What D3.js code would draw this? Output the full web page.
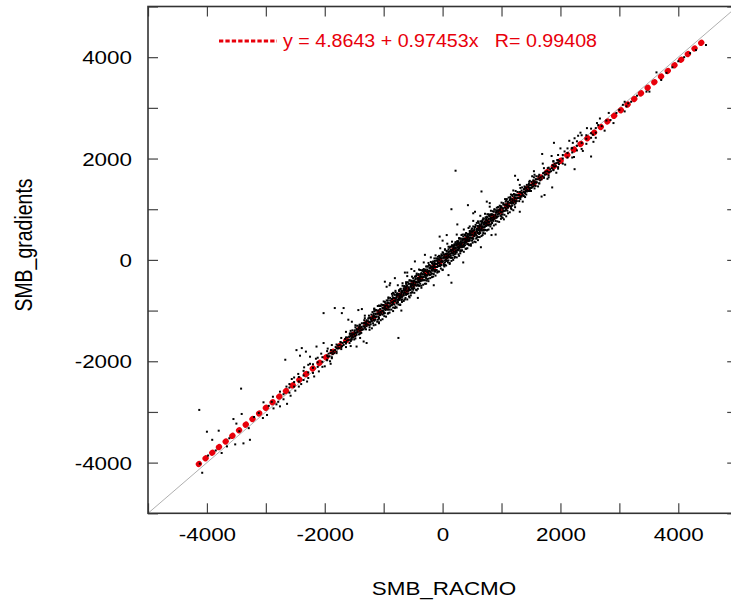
<!DOCTYPE html>
<html>
<head>
<meta charset="utf-8">
<script src="https://cdn.jsdelivr.net/npm/d3@7"></script>
<style>
  body { margin: 0; background: #fff; }
  text { font-family: "Liberation Sans", Arial, Helvetica, sans-serif; }
</style>
</head>
<body>
<div id="chart"></div>
<script>
// axis settings
const axisDomain = [-5000, 5000];
const tickValues = [-5000, -4000, -3000, -2000, -1000, 0, 1000, 2000, 3000, 4000, 5000];
const xTitle = "SMB_RACMO";
const yTitle = "SMB_gradients";

// linear fit (from the legend)
const fitIntercept = 4.8643;
const fitSlope = 0.97453;
const fitR = 0.99408;
const fitRange = [-4140, 4470];

// scatter points [SMB_RACMO, SMB_gradients]
const lowerTail = [
  [-4130,-2960],[-4080,-4200],[-4000,-3390],[-3800,-3370],[-3910,-3550],[-3550,-3140],
  [-3410,-3040],[-3500,-3230],[-3380,-3620],[-3270,-3550],[-3520,-3640],[-3750,-3810],
  [-3660,-3680],[-3290,-3320],[-3040,-2810],[-2980,-3060],[-3050,-3120],[-2870,-2930],
  [-2760,-2890],[-2640,-2840],[-2790,-2800],[-4120,-4020],[-3980,-3860],[-3850,-3760],
  [-3620,-3520],[-3450,-3380],[-3200,-3100],[-3120,-3020],[-2950,-2880],[-2900,-2800],
  [-2700,-2650],[-3420,-2540]
];

const negBand = [
  [-2600,-2620],[-2600,-2520],[-2600,-2450],[-2520,-2500],[-2520,-2410],[-2520,-2320],
  [-2440,-2500],[-2440,-2400],[-2440,-2310],[-2360,-2370],[-2360,-2280],[-2360,-2190],
  [-2280,-2330],[-2280,-2220],[-2280,-2070],[-2200,-2230],[-2200,-2130],[-2200,-2060],
  [-2120,-2110],[-2120,-2020],[-2120,-1930],[-2040,-2110],[-2040,-2010],[-2040,-1920],
  [-1960,-1980],[-1960,-1890],[-1960,-1800],[-1880,-1940],[-1880,-1830],[-1880,-1680],
  [-1800,-1840],[-1800,-1740],[-1800,-1670],[-1720,-1720],[-1720,-1630],[-1720,-1540],
  [-1640,-1720],[-1640,-1620],[-1640,-1530],[-1560,-1590],[-1560,-1500],[-1560,-1400],
  [-1480,-1550],[-1480,-1440],[-1480,-1290],[-1400,-1450],[-1400,-1350],[-1400,-1280],
  [-1320,-1330],[-1320,-1240],[-1320,-1150],[-1240,-1330],[-1240,-1230],[-1240,-1140],
  [-1160,-1200],[-1160,-1110],[-1160,-1010],[-1080,-1160],[-1080,-1050],[-1080,-900],
  [-1000,-1060],[-1000,-960],[-1000,-890],[-920,-940],[-920,-850],[-920,-760],
  [-840,-940],[-840,-840],[-840,-750],
  [-1640,-1420],[-1560,-1700],[-1480,-1330],[-1400,-1540],[-1320,-1100],[-1240,-1380],
  [-1160,-960],[-1080,-1230],[-1000,-820],[-920,-1050],[-840,-650],
  [-2880,-2700],[-2820,-2850],[-2760,-2600],[-2700,-2750],[-2650,-2500],[-2580,-2680],
  [-2560,-2350],[-2500,-2580],[-2450,-2250],[-2400,-2450],[-2350,-2120],[-2300,-2400],
  [-2250,-2050],[-2180,-2300],[-2150,-1950],[-2100,-2200],[-2060,-1850],[-2000,-2100],
  [-1950,-1750],[-1900,-2050]
];

const coreBand = [
  [-800,-920],[-780,-840],[-800,-770],[-780,-700],[-800,-610],
  [-760,-840],[-740,-760],[-760,-690],[-740,-610],[-760,-500],
  [-720,-880],[-700,-780],[-720,-710],[-700,-640],[-720,-580],
  [-680,-780],[-660,-690],[-680,-630],[-660,-560],[-680,-460],
  [-640,-780],[-620,-670],[-640,-600],[-620,-470],[-640,-530],
  [-600,-670],[-580,-580],[-600,-510],[-580,-470],[-600,-320],
  [-560,-740],[-540,-650],[-560,-580],[-540,-500],[-560,-400],
  [-520,-640],[-500,-560],[-520,-490],[-500,-420],[-520,-330],
  [-480,-560],[-460,-480],[-480,-410],[-460,-330],[-480,-220],
  [-440,-600],[-420,-500],[-440,-430],[-420,-360],[-440,-300],
  [-400,-510],[-380,-420],[-400,-360],[-380,-290],[-400,-190],
  [-360,-510],[-340,-400],[-360,-330],[-340,-200],[-360,-260],
  [-320,-400],[-300,-310],[-320,-240],[-300,-200],[-320,-50],
  [-280,-470],[-260,-380],[-280,-310],[-260,-230],[-280,-130],
  [-240,-370],[-220,-290],[-240,-220],[-220,-150],[-240,-60],
  [-200,-290],[-180,-210],[-200,-140],[-180,-60],[-200,50],
  [-160,-330],[-140,-230],[-160,-160],[-140,-90],[-160,-30],
  [-120,-230],[-100,-140],[-120,-80],[-100,-10],[-120,90],
  [-80,-230],[-60,-120],[-80,-50],[-60,80],[-80,20],
  [-40,-120],[-20,-30],[-40,40],[-20,80],[-40,230],
  [0,-200],[20,-110],[0,-40],[20,50],[0,150],
  [40,-100],[60,-20],[40,50],[60,120],[40,210],
  [80,-20],[100,60],[80,130],[100,210],[80,320],
  [120,-60],[140,40],[120,110],[140,180],[120,240],
  [160,40],[180,130],[160,190],[180,260],[160,360],
  [200,40],[220,150],[200,220],[220,350],[200,290],
  [240,150],[260,240],[240,310],[260,350],[240,500],
  [280,80],[300,170],[280,240],[300,320],[280,420],
  [320,180],[340,260],[320,330],[340,400],[320,490],
  [360,260],[380,340],[360,410],[380,490],[360,600],
  [400,220],[420,320],[400,390],[420,460],[400,520],
  [440,310],[460,400],[440,460],[460,530],[440,630],
  [480,310],[500,420],[480,490],[500,620],[480,560],
  [520,420],[540,510],[520,580],[540,620],[520,770],
  [560,350],[580,440],[560,510],[580,590],[560,690],
  [600,450],[620,530],[600,600],[620,670],[600,760],
  [640,530],[660,610],[640,680],[660,760],[640,870],
  [680,490],[700,590],[680,660],[700,730],[680,790],
  [720,590],[740,680],[720,740],[740,810],[720,910],
  [760,590],[780,700],[760,770],[780,900],[760,840],
  [800,700],[820,790],[800,860],[820,900],[800,1050],
  [230,280],[260,300],[290,330],[250,360],[310,300],[340,390],[370,350],[280,250],
  [420,450],[450,400],[330,250],[210,230],[390,480],[470,520],[300,420],[360,300],
  [440,380],[500,560],[260,200],[200,310]
];

// points hugging the fit through the densest part
const coreLine = [
  [-1580,-1640],[-1570,-1570],[-1580,-1510],[-1570,-1450],
  [-1540,-1570],[-1530,-1510],[-1540,-1450],[-1530,-1390],
  [-1500,-1570],[-1490,-1510],[-1500,-1450],[-1490,-1390],
  [-1460,-1480],[-1450,-1420],[-1460,-1360],[-1450,-1300],
  [-1420,-1470],[-1410,-1400],[-1420,-1340],[-1410,-1280],
  [-1380,-1440],[-1370,-1380],[-1380,-1320],[-1370,-1250],
  [-1340,-1370],[-1330,-1310],[-1340,-1250],[-1330,-1190],
  [-1300,-1370],[-1290,-1310],[-1300,-1250],[-1290,-1190],
  [-1260,-1280],[-1250,-1220],[-1260,-1160],[-1250,-1100],
  [-1220,-1270],[-1210,-1200],[-1220,-1140],[-1210,-1080],
  [-1180,-1250],[-1170,-1180],[-1180,-1120],[-1170,-1060],
  [-1140,-1180],[-1130,-1120],[-1140,-1060],[-1130,-1000],
  [-1100,-1180],[-1090,-1120],[-1100,-1060],[-1090,-1000],
  [-1060,-1090],[-1050,-1030],[-1060,-970],[-1050,-910],
  [-1020,-1080],[-1010,-1010],[-1020,-950],[-1010,-890],
  [-980,-1050],[-970,-990],[-980,-930],[-970,-860],
  [-940,-980],[-930,-920],[-940,-860],[-930,-800],
  [-900,-980],[-890,-920],[-900,-860],[-890,-800],
  [-860,-890],[-850,-830],[-860,-770],[-850,-710],
  [-820,-880],[-810,-810],[-820,-750],[-810,-690],
  [-780,-860],[-770,-790],[-780,-730],[-770,-670],
  [-740,-790],[-730,-730],[-740,-670],[-730,-610],
  [-700,-790],[-690,-730],[-700,-670],[-690,-610],
  [-660,-700],[-650,-640],[-660,-580],[-650,-520],
  [-620,-690],[-610,-620],[-620,-560],[-610,-500],
  [-580,-660],[-570,-600],[-580,-540],[-570,-470],
  [-540,-590],[-530,-530],[-540,-470],[-530,-410],
  [-500,-590],[-490,-530],[-500,-470],[-490,-410],
  [-460,-500],[-450,-440],[-460,-380],[-450,-320],
  [-420,-490],[-410,-420],[-420,-360],[-410,-300],
  [-380,-470],[-370,-400],[-380,-340],[-370,-280],
  [-340,-400],[-330,-340],[-340,-280],[-330,-220],
  [-300,-400],[-290,-340],[-300,-280],[-290,-220],
  [-260,-310],[-250,-250],[-260,-190],[-250,-130],
  [-220,-300],[-210,-230],[-220,-170],[-210,-110],
  [-180,-270],[-170,-210],[-180,-150],[-170,-80],
  [-140,-200],[-130,-140],[-140,-80],[-130,-20],
  [-100,-200],[-90,-140],[-100,-80],[-90,-20],
  [-60,-110],[-50,-50],[-60,10],[-50,70],
  [-20,-100],[-10,-30],[-20,30],[-10,90],
  [20,-80],[30,-10],[20,50],[30,110],
  [60,-10],[70,50],[60,110],[70,170],
  [100,-10],[110,50],[100,110],[110,170],
  [140,80],[150,140],[140,200],[150,260],
  [180,90],[190,160],[180,220],[190,280],
  [220,120],[230,180],[220,240],[230,310],
  [260,190],[270,250],[260,310],[270,370],
  [300,190],[310,250],[300,310],[310,370],
  [340,280],[350,340],[340,400],[350,460],
  [380,290],[390,360],[380,420],[390,480],
  [420,310],[430,380],[420,440],[430,500],
  [460,380],[470,440],[460,500],[470,560],
  [500,380],[510,440],[500,500],[510,560],
  [540,470],[550,530],[540,590],[550,650],
  [580,480],[590,550],[580,610],[590,670],
  [620,510],[630,570],[620,630],[630,700],
  [660,580],[670,640],[660,700],[670,760],
  [700,580],[710,640],[700,700],[710,760],
  [740,670],[750,730],[740,790],[750,850],
  [780,680],[790,750],[780,810],[790,870],
  [820,700],[830,770],[820,830],[830,890],
  [860,770],[870,830],[860,890],[870,950],
  [900,770],[910,830],[900,890],[910,950],
  [940,860],[950,920],[940,980],[950,1040],
  [980,870],[990,940],[980,1000],[990,1060],
  [1020,900],[1030,960],[1020,1020],[1030,1090],
  [1060,970],[1070,1030],[1060,1090],[1070,1150],
  [1100,970],[1110,1030],[1100,1090],[1110,1150],
  [1140,1060],[1150,1120],[1140,1180],[1150,1240],
  [1180,1070],[1190,1140],[1180,1200],[1190,1260],
  [1220,1090],[1230,1160],[1220,1220],[1230,1280],
  [1260,1160],[1270,1220],[1260,1280],[1270,1340],
  [1300,1160],[1310,1220],[1300,1280],[1310,1340],
  [1340,1250],[1350,1310],[1340,1370],[1350,1430],
  [1380,1260],[1390,1330],[1380,1390],[1390,1450],
  [1420,1290],[1430,1350],[1420,1410],[1430,1480],
  [1460,1360],[1470,1420],[1460,1480],[1470,1540],
  [1500,1360],[1510,1420],[1500,1480],[1510,1540],
  [1540,1450],[1550,1510],[1540,1570],[1550,1630],
  [1580,1460],[1590,1530],[1580,1590],[1590,1650]
];

// second tight layer, -2000 .. 2000
const coreTight = [
  [-1960,-1970],[-1945,-1910],[-1935,-1850],[-1920,-1900],[-1905,-1840],[-1895,-1780],
  [-1880,-1920],[-1865,-1860],[-1855,-1800],[-1840,-1840],[-1825,-1780],[-1815,-1720],
  [-1800,-1810],[-1785,-1750],[-1775,-1690],[-1760,-1740],[-1745,-1680],[-1735,-1620],
  [-1720,-1760],[-1705,-1700],[-1695,-1640],[-1680,-1680],[-1665,-1620],[-1655,-1560],
  [-1640,-1650],[-1625,-1590],[-1615,-1530],[-1600,-1580],[-1585,-1520],[-1575,-1460],
  [-1560,-1600],[-1545,-1540],[-1535,-1480],[-1520,-1530],[-1505,-1470],[-1495,-1410],
  [-1480,-1500],[-1465,-1440],[-1455,-1380],[-1440,-1430],[-1425,-1370],[-1415,-1310],
  [-1400,-1450],[-1385,-1390],[-1375,-1330],[-1360,-1370],[-1345,-1310],[-1335,-1250],
  [-1320,-1340],[-1305,-1280],[-1295,-1220],[-1280,-1270],[-1265,-1210],[-1255,-1150],
  [-1240,-1290],[-1225,-1230],[-1215,-1170],[-1200,-1210],[-1185,-1150],[-1175,-1090],
  [-1160,-1190],[-1145,-1130],[-1135,-1070],[-1120,-1120],[-1105,-1060],[-1095,-1000],
  [-1080,-1140],[-1065,-1080],[-1055,-1020],[-1040,-1060],[-1025,-1000],[-1015,-940],
  [-1000,-1030],[-985,-970],[-975,-910],[-960,-960],[-945,-900],[-935,-840],
  [-920,-980],[-905,-920],[-895,-860],[-880,-900],[-865,-840],[-855,-780],
  [-840,-870],[-825,-810],[-815,-750],[-800,-810],[-785,-750],[-775,-690],
  [-760,-830],[-745,-770],[-735,-710],[-720,-750],[-705,-690],[-695,-630],
  [-680,-720],[-665,-660],[-655,-600],[-640,-650],[-625,-590],[-615,-530],
  [-600,-670],[-585,-610],[-575,-550],[-560,-590],[-545,-530],[-535,-470],
  [-520,-560],[-505,-500],[-495,-440],[-480,-490],[-465,-430],[-455,-370],
  [-440,-510],[-425,-450],[-415,-390],[-400,-440],[-385,-380],[-375,-320],
  [-360,-410],[-345,-350],[-335,-290],[-320,-340],[-305,-280],[-295,-220],
  [-280,-360],[-265,-300],[-255,-240],[-240,-280],[-225,-220],[-215,-160],
  [-200,-250],[-185,-190],[-175,-130],[-160,-180],[-145,-120],[-135,-60],
  [-120,-200],[-105,-140],[-95,-80],[-80,-120],[-65,-60],[-55,0],
  [-40,-90],[-25,-30],[-15,30],[0,-30],[15,40],[25,100],
  [40,-50],[55,10],[65,70],[80,30],[95,90],[105,150],
  [120,60],[135,120],[145,180],[160,130],[175,190],[185,250],
  [200,110],[215,170],[225,230],[240,190],[255,250],[265,310],
  [280,220],[295,280],[305,340],[320,290],[335,350],[345,410],
  [360,270],[375,330],[385,390],[400,350],[415,410],[425,470],
  [440,370],[455,430],[465,490],[480,440],[495,500],[505,560],
  [520,420],[535,480],[545,540],[560,500],[575,560],[585,620],
  [600,530],[615,590],[625,650],[640,600],[655,660],[665,720],
  [680,580],[695,640],[705,700],[720,660],[735,720],[745,780],
  [760,690],[775,750],[785,810],[800,760],[815,820],[825,880],
  [840,730],[855,790],[865,850],[880,810],[895,870],[905,930],
  [920,840],[935,900],[945,960],[960,910],[975,970],[985,1030],
  [1000,890],[1015,950],[1025,1010],[1040,970],[1055,1030],[1065,1090],
  [1080,1000],[1095,1060],[1105,1120],[1120,1070],[1135,1130],[1145,1190],
  [1160,1050],[1175,1110],[1185,1170],[1200,1120],[1215,1180],[1225,1240],
  [1240,1150],[1255,1210],[1265,1270],[1280,1220],[1295,1280],[1305,1340],
  [1320,1200],[1335,1260],[1345,1320],[1360,1280],[1375,1340],[1385,1400],
  [1400,1310],[1415,1370],[1425,1430],[1440,1380],[1455,1440],[1465,1500],
  [1480,1360],[1495,1420],[1505,1480],[1520,1440],[1535,1500],[1545,1560],
  [1560,1470],[1575,1530],[1585,1590],[1600,1530],[1615,1590],[1625,1650],
  [1640,1510],[1655,1570],[1665,1630],[1680,1590],[1695,1650],[1705,1710],
  [1720,1620],[1735,1680],[1745,1740],[1760,1690],[1775,1750],[1785,1810],
  [1800,1670],[1815,1730],[1825,1790],[1840,1750],[1855,1810],[1865,1870],
  [1880,1780],[1895,1840],[1905,1900],[1920,1850],[1935,1910],[1945,1970],
  [1960,1830],[1975,1890],[1985,1950]
];

// looser fringe around the centre
const coreWide = [
  [-1200,-1350],[-1170,-1290],[-1190,-1030],[-1160,-970],
  [-1140,-1280],[-1110,-1220],[-1130,-990],[-1100,-910],
  [-1080,-1250],[-1050,-1190],[-1070,-910],[-1040,-880],
  [-1020,-1170],[-990,-1110],[-1010,-890],[-980,-830],
  [-960,-1120],[-930,-1060],[-950,-800],[-920,-740],
  [-900,-1040],[-870,-980],[-890,-750],[-860,-670],
  [-840,-1010],[-810,-950],[-830,-670],[-800,-640],
  [-780,-940],[-750,-880],[-770,-660],[-740,-600],
  [-720,-890],[-690,-830],[-710,-570],[-680,-510],
  [-660,-810],[-630,-750],[-650,-520],[-620,-440],
  [-600,-780],[-570,-720],[-590,-440],[-560,-410],
  [-540,-700],[-510,-640],[-530,-420],[-500,-360],
  [-480,-650],[-450,-590],[-470,-330],[-440,-270],
  [-420,-570],[-390,-510],[-410,-280],[-380,-200],
  [-360,-550],[-330,-490],[-350,-210],[-320,-180],
  [-300,-470],[-270,-410],[-290,-190],[-260,-130],
  [-240,-420],[-210,-360],[-230,-100],[-200,-40],
  [-180,-340],[-150,-280],[-170,-50],[-140,30],
  [-120,-310],[-90,-250],[-110,30],[-80,60],
  [-60,-230],[-30,-170],[-50,50],[-20,110],
  [0,-190],[30,-130],[10,140],[40,200],
  [60,-110],[90,-50],[70,180],[100,260],
  [120,-80],[150,-20],[130,260],[160,290],
  [180,0],[210,60],[190,280],[220,340],
  [240,50],[270,110],[250,370],[280,430],
  [300,130],[330,190],[310,420],[340,500],
  [360,160],[390,220],[370,500],[400,530],
  [420,230],[450,290],[430,510],[460,570],
  [480,280],[510,340],[490,600],[520,660],
  [540,360],[570,420],[550,650],[580,730],
  [600,390],[630,450],[610,730],[640,760],
  [660,470],[690,530],[670,750],[700,810],
  [720,520],[750,580],[730,840],[760,900],
  [780,600],[810,660],[790,890],[820,970],
  [840,620],[870,680],[850,960],[880,990],
  [900,700],[930,760],[910,980],[940,1040],
  [960,750],[990,810],[970,1070],[1000,1130],
  [1020,830],[1050,890],[1030,1120],[1060,1200],
  [1080,860],[1110,920],[1090,1200],[1120,1230],
  [1140,940],[1170,1000],[1150,1220],[1180,1280],
  [1200,980],[1230,1040],[1210,1300],[1240,1360]
];

const posBand = [
  [840,730],[840,830],[840,900],[920,850],[920,940],[920,1030],
  [1000,850],[1000,950],[1000,1040],[1080,990],[1080,1080],[1080,1170],
  [1160,1020],[1160,1140],[1160,1290],[1240,1120],[1240,1220],[1240,1290],
  [1320,1240],[1320,1330],[1320,1420],[1400,1240],[1400,1340],[1400,1430],
  [1480,1380],[1480,1470],[1480,1560],[1560,1410],[1560,1530],[1560,1680],
  [1640,1510],[1640,1610],[1640,1680],[1720,1630],[1720,1720],[1720,1810],
  [1800,1630],[1800,1730],[1800,1820],[1880,1770],[1880,1860],[1880,1950],
  [1960,1800],[1960,1920],[1960,2070],[2040,1900],[2040,2000],[2040,2070],
  [2120,2020],[2120,2110],[2120,2200],[2200,2020],[2200,2120],[2200,2210],
  [2280,2160],[2280,2250],[2280,2340],[2360,2190],[2360,2310],[2360,2460],
  [2440,2290],[2440,2390],[2440,2460],[2520,2410],[2520,2500],[2520,2590],
  [2600,2410],[2600,2510],[2600,2600],
  [880,1000],[1040,800],[1200,1370],[1360,1150],[1520,1650],
  [1550,1750],[1620,1450],[1700,1900],[1780,1600],[1850,2050],[1930,1720],
  [2000,2200],[2080,1880],[2150,2350],[2230,2030],[2300,2450],[2380,2150],
  [2450,2600],[2560,2330],[2620,2700],[2750,2550],[2820,2900],[2900,2700]
];

const upperTail = [
  [2700,2640],[2780,2750],[2850,2760],[2950,2900],[3000,2960],[3060,3060],[3090,3120],
  [3120,3030],[3090,2930],[3150,3090],[3200,3120],[3300,3240],[3460,3320],[3510,3320],
  [3630,3700],[3710,3550],[3800,3690],[3900,3800],[4000,3920],[4100,4000],[4200,4080],
  [4300,4140],[4470,4240],[2670,2790],[2640,2660],[2550,2470]
];

const outliers = [
  [-2670,-1970],[-2480,-1780],[-2390,-1740],[-2320,-1810],[-2420,-1890],[-2020,-1050],
  [-1830,-950],[-1680,-950],[-1710,-1050],[-1600,-1180],[-1540,-1220],[-1430,-990],
  [-1370,-970],[-750,-1540],[-980,-430],[-950,-530],[-890,-460],[-810,-360],
  [-1910,-2000],[-2020,-1640],[-2140,-1710],[-2250,-1910],[-1340,-1610],[-1290,-1640],
  [-1460,-1710],[660,1350],[430,1080],[520,920],[150,1000],[-50,460],[70,490],
  [-470,-30],[-530,-180],[-640,-250],[150,-450],[800,1120],[1310,1480],[1310,950],
  [830,490],[460,660],[690,820],[970,990],[220,1760],
  [2520,2040],[2240,1790],[1860,1430],[1680,1250],[1730,1280],[1890,2310],[2340,2510],
  [2240,2400],[2210,2310],[1690,2090],[2070,2140],[2190,2200],[1230,1660],[1280,1580],
  [1880,1940],[1960,1970],
  [-900,-500],[-700,-1000],[-600,-250],[-420,-750],[-300,100],[-150,-500],[0,380],
  [100,-300],[250,700],[350,-50],[550,950],[650,250],[750,1150],[900,500]
];

const points = [].concat(lowerTail, negBand, coreBand, coreLine, coreTight, coreWide,
  posBand, upperTail, outliers);

const W = 731, H = 601;
const plot = {left: 148, right: 737.2, top: 6.5, bottom: 513.3};
const stretch = 1.18;   // the original text is drawn a bit wide

const svg = d3.select("#chart").append("svg")
  .attr("width", W)
  .attr("height", H)
  .style("background", "#fff");

const x = d3.scaleLinear().domain(axisDomain).range([plot.left, plot.right]);
const y = d3.scaleLinear().domain(axisDomain).range([plot.bottom, plot.top]);

// 1:1 line
svg.append("line")
  .attr("x1", x(axisDomain[0])).attr("y1", y(axisDomain[0]))
  .attr("x2", x(axisDomain[1])).attr("y2", y(axisDomain[1]))
  .attr("stroke", "#9a9a9a")
  .attr("stroke-width", 0.8);

// regression line, drawn as fat red dots
const fit = v => fitIntercept + fitSlope * v;
svg.append("line")
  .attr("x1", x(fitRange[0])).attr("y1", y(fit(fitRange[0])))
  .attr("x2", x(fitRange[1])).attr("y2", y(fit(fitRange[1])))
  .attr("stroke", "#e8000b")
  .attr("stroke-width", 5.8)
  .attr("stroke-linecap", "round")
  .attr("stroke-dasharray", "0.6 8.14");

// scatter
svg.append("g")
  .selectAll("rect")
  .data(points)
  .join("rect")
  .attr("x", d => x(d[0]) - 1)
  .attr("y", d => y(d[1]) - 1)
  .attr("width", 2)
  .attr("height", 2)
  .attr("fill", "#000");

// axes, ticks inward
const fmt = d => (d % 2000 === 0 ? String(d) : "");
const styleAxis = g => {
  g.select(".domain").remove();
  g.selectAll(".tick line").attr("stroke", "#444").attr("stroke-width", 1.2);
  g.selectAll("text").attr("fill", "#000").style("font-size", "19px")
    .style("font-family", '"Liberation Sans", Arial, sans-serif');
};

svg.append("g")
  .attr("transform", `translate(0,${plot.bottom})`)
  .call(d3.axisBottom(x).tickValues(tickValues).tickFormat(fmt).tickSize(-10).tickPadding(14.5))
  .call(styleAxis)
  .call(g => g.selectAll("text").attr("transform", `scale(${stretch},1)`));

svg.append("g")
  .attr("transform", `translate(${plot.left},0)`)
  .call(d3.axisLeft(y).tickValues(tickValues).tickFormat(fmt).tickSize(-10).tickPadding(16))
  .call(styleAxis)
  .call(g => g.selectAll("text")
    .attr("x", 0)
    .attr("dy", "0.34em")
    .attr("transform", `translate(-16,0) scale(${stretch},1)`));

svg.append("g")
  .attr("transform", `translate(0,${plot.top})`)
  .call(d3.axisTop(x).tickValues(tickValues).tickFormat("").tickSize(-10))
  .call(styleAxis);

svg.append("g")
  .attr("transform", `translate(${plot.right},0)`)
  .call(d3.axisRight(y).tickValues(tickValues).tickFormat("").tickSize(-10))
  .call(styleAxis);

// frame
svg.append("rect")
  .attr("x", plot.left).attr("y", plot.top)
  .attr("width", plot.right - plot.left)
  .attr("height", plot.bottom - plot.top)
  .attr("fill", "none")
  .attr("stroke", "#333")
  .attr("stroke-width", 1.6);

// axis titles
svg.append("text")
  .attr("transform", `translate(444,595) scale(${stretch},1)`)
  .attr("text-anchor", "middle")
  .style("font-size", "19px")
  .text(xTitle);

svg.append("text")
  .attr("transform", `translate(32,245) scale(${stretch},1) rotate(-90)`)
  .attr("text-anchor", "middle")
  .style("font-size", "19.5px")
  .text(yTitle);

// legend
svg.append("line")
  .attr("x1", 219).attr("y1", 41)
  .attr("x2", 277).attr("y2", 41)
  .attr("stroke", "#e8000b")
  .attr("stroke-width", 3.2)
  .attr("stroke-dasharray", "4.3 2.1");

svg.append("text")
  .attr("x", 283)
  .attr("y", 47)
  .attr("fill", "#e8000b")
  .attr("textLength", 314)
  .attr("lengthAdjust", "spacingAndGlyphs")
  .style("font-size", "18px")
  .style("white-space", "pre")
  .text(`y = ${fitIntercept} + ${fitSlope}x   R= ${fitR}`);
</script>
</body>
</html>
